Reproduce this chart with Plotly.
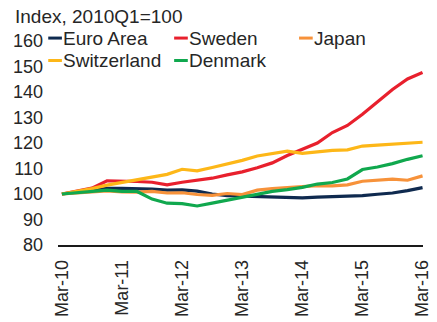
import plotly.graph_objects as go

# Quarterly index values, 2010Q1 = 100
quarters = [f"{m}-{y:02d}" for y in range(10, 17) for m in ("Mar", "Jun", "Sep", "Dec")][:25]

euro_area = [100, 100.7, 101.7, 102.2, 102.2, 102.1, 101.9, 101.5, 101.6, 101.1, 100.0, 99.4, 99.2,
             98.9, 98.6, 98.5, 98.5, 98.8, 99.0, 99.1, 99.4, 99.9, 100.4, 101.3, 102.5]
sweden = [100, 101.0, 102.3, 105.2, 105.2, 104.9, 104.6, 103.6, 104.6, 105.5, 106.2, 107.5, 108.7,
          110.3, 112.2, 115.1, 117.5, 120.0, 124.1, 126.9, 131.3, 136.2, 141.0, 145.1, 147.7]
japan = [100, 100.4, 100.7, 101.2, 100.8, 100.7, 101.0, 100.4, 100.5, 99.8, 99.5, 100.2, 99.8,
         101.5, 102.1, 102.6, 102.9, 103.3, 103.2, 103.6, 105.0, 105.4, 105.8, 105.4, 107.1]
switzerland = [100, 101.0, 102.1, 103.5, 104.5, 105.5, 106.4, 107.7, 109.7, 109.1, 110.4, 111.7, 113.2,
               114.9, 115.7, 116.8, 115.9, 116.6, 117.1, 117.3, 118.8, 119.2, 119.6, 120.0, 120.3]
denmark = [100, 100.4, 101.0, 101.5, 101.0, 101.0, 98.0, 96.4, 96.2, 95.3, 96.4, 97.6, 98.8,
           100.0, 101.0, 101.7, 102.6, 103.9, 104.5, 105.9, 109.6, 110.6, 111.9, 113.6, 115.0]

series_names = ["Euro Area", "Sweden", "Japan", "Switzerland", "Denmark"]
series_values = [euro_area, sweden, japan, switzerland, denmark]
series_colors = ["#0f2a4f", "#e8202d", "#f7923a", "#fdb718", "#10a84e"]

y_ticks = [80, 90, 100, 110, 120, 130, 140, 150, 160]
x_ticks = quarters[::4]

W, H = 437, 322
L, R, T, B = 58, 5, 41, 72
FONT = "Liberation Sans, Arial, sans-serif"
TEXT = "#262626"

fig = go.Figure()
for name, vals, col in zip(series_names, series_values, series_colors):
    fig.add_trace(go.Scatter(x=list(range(len(quarters))), y=vals, name=name, mode="lines",
                             line=dict(color=col, width=3.2), showlegend=False))

fig.update_layout(
    width=W, height=H,
    margin=dict(l=L, r=R, t=T, b=B),
    paper_bgcolor="white", plot_bgcolor="white",
    font=dict(family=FONT, size=18, color=TEXT),
    xaxis=dict(range=[-0.26, 24.03], tickmode="array",
               tickvals=[quarters.index(q) for q in x_ticks], ticktext=x_ticks,
               tickangle=-90, showgrid=False, zeroline=False,
               showline=True, linecolor="#1a1a1a", linewidth=1.5,
               ticks="", ticklabelstandoff=6, ticklabeloverflow="allow"),
    yaxis=dict(range=[80, 160], tickvals=y_ticks, showgrid=False, zeroline=False,
               showline=False, ticks="", ticklabelstandoff=14),
)

def px_x(p):
    return (p - L) / (W - L - R)

def px_y(p):
    return (H - B - p) / (H - T - B)

# Axis caption
fig.add_annotation(text="Index, 2010Q1=100", xref="paper", yref="paper",
                   x=px_x(12), y=px_y(16), xanchor="left", yanchor="middle",
                   showarrow=False, font=dict(size=19, color=TEXT))

# Legend: short coloured stroke followed by the series name
legend_pos = [(48, 38), (177, 38), (305, 38), (48, 61), (177, 61)]
for (lx, ly), name, col in zip(legend_pos, series_names, series_colors):
    fig.add_shape(type="line", xref="paper", yref="paper",
                  x0=px_x(lx), x1=px_x(lx + 14), y0=px_y(ly), y1=px_y(ly),
                  line=dict(color=col, width=3))
    fig.add_annotation(text=name, xref="paper", yref="paper",
                       x=px_x(lx + 13), y=px_y(ly), xanchor="left", yanchor="middle",
                       showarrow=False, font=dict(size=19, color=TEXT))

fig.write_html("out.html")
